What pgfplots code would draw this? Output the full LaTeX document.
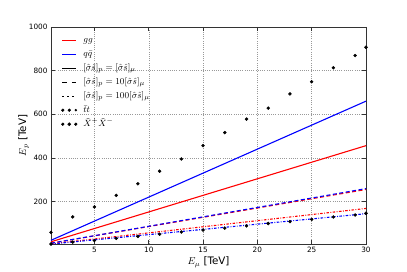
\documentclass[border=0pt]{standalone}
\usepackage{fontspec}
\setmainfont{DejaVu Sans}
\usepackage{pgfplots}
\pgfplotsset{compat=1.18}
\begin{document}
\begin{tikzpicture}
\begin{axis}[
  scale only axis,
  width=315pt, height=217pt,
  xmin=1, xmax=30, ymin=5, ymax=1000,
  xtick={5,10,15,20,25,30},
  ytick={200,400,600,800,1000},
  tick align=inside,
  xtick pos=both, ytick pos=both,
  major tick length=4pt,
  minor tick num=0,
  grid=major,
  grid style={gray!80, dash pattern=on 1pt off 1.2pt, line width=0.5pt},
  axis line style={line width=0.8pt, black!80},
  tick style={line width=0.6pt, black!80},
  /pgf/number format/assume math mode=true,
  /pgf/number format/1000 sep={},
  ticklabel style={font=\fontsize{7.3}{9}\selectfont},
  xlabel={$E_\mu$ [TeV]}, ylabel={$E_p$ [TeV]},
  label style={font=\fontsize{10.3}{12}\selectfont},
  xlabel style={yshift=3pt},
  ylabel style={yshift=-7pt},
  legend cell align=left,
  legend style={draw=none, fill=none, at={(0,1)}, anchor=north west, xshift=7pt, yshift=-4pt,
    font=\fontsize{9.5}{10}\selectfont, row sep=0pt,
    nodes={inner sep=1pt, text height=8.5pt, text depth=3.5pt}},
]
\addlegendimage{legend image code/.code={\path[draw=none,fill=none] (0pt,0pt) -- (20pt,0pt); \draw[red, line width=1.1pt] (0pt,0pt) -- (14pt,0pt);}}
\addlegendentry{$gg$}
\addlegendimage{legend image code/.code={\path[draw=none,fill=none] (0pt,0pt) -- (20pt,0pt); \draw[blue, line width=1.1pt] (0pt,0pt) -- (14pt,0pt);}}
\addlegendentry{$q\bar{q}$}
\addlegendimage{legend image code/.code={\path[draw=none,fill=none] (0pt,0pt) -- (20pt,0pt); \draw[black, line width=1.1pt] (0pt,0pt) -- (14pt,0pt);}}
\addlegendentry{$[\hat{\sigma}\hat{s}]_p=[\hat{\sigma}\hat{s}]_\mu$}
\addlegendimage{legend image code/.code={\path[draw=none,fill=none] (0pt,0pt) -- (20pt,0pt); \draw[black, line width=1.1pt, dash pattern=on 4.5pt off 5pt] (0pt,0pt) -- (14pt,0pt);}}
\addlegendentry{$[\hat{\sigma}\hat{s}]_p=10[\hat{\sigma}\hat{s}]_\mu$}
\addlegendimage{legend image code/.code={\path[draw=none,fill=none] (0pt,0pt) -- (20pt,0pt); \draw[black, line width=1.1pt, dash pattern=on 1.5pt off 3.5pt] (0pt,0pt) -- (14pt,0pt);}}
\addlegendentry{$[\hat{\sigma}\hat{s}]_p=100[\hat{\sigma}\hat{s}]_\mu$}
\addlegendimage{legend image code/.code={\path[draw=none,fill=none] (0pt,0pt) -- (20pt,0pt); \fill[black] (0.5pt,0pt) circle (1.4pt); \fill[black] (7pt,0pt) circle (1.4pt); \fill[black] (13.5pt,0pt) circle (1pt);}}
\addlegendentry{$\bar{t}t$}
\addlegendimage{legend image code/.code={\path[draw=none,fill=none] (0pt,0pt) -- (20pt,0pt); \fill[black] (0.5pt,0pt) circle (1.4pt); \fill[black] (7pt,0pt) circle (1.6pt); \fill[black] (13.5pt,0pt) circle (1.4pt);}}
\addlegendentry{$\tilde{X}^+\tilde{X}^-$}

\addplot[red, line width=1.1pt, forget plot] coordinates {(1,15.2) (30,456)};
\addplot[blue, line width=1.1pt, forget plot] coordinates {(1,22) (30,660)};
\addplot[red, line width=1.1pt, dash pattern=on 4pt off 2.5pt, forget plot] coordinates {(1,8.5) (30,255)};
\addplot[blue, line width=1.1pt, dash pattern=on 4pt off 2.5pt, forget plot] coordinates {(1,8.6) (30,259)};
\addplot[red, line width=1.1pt, dash pattern=on 2.5pt off 1.5pt on 0.8pt off 1.5pt, forget plot] coordinates {(1,5.6) (30,168)};
\addplot[blue, line width=1.1pt, dash pattern=on 2.5pt off 1.5pt on 0.8pt off 1.5pt, forget plot] coordinates {(1,4.8) (30,144)};

\addplot[only marks, mark=*, mark size=1.5pt, black, forget plot] coordinates {
(1,58) (3,129) (5,175) (7,228) (9,281) (11,339) (13,395) (15,456) (17,516) (19,578)
(21,628) (23,693) (25,749) (27,813) (29,869) (30,907)};
\addplot[only marks, mark=*, mark size=1.5pt, black, forget plot] coordinates {
(1,5) (3,14) (5,21) (7,31) (9,40) (11,50) (13,60) (15,69) (17,78) (19,88)
(21,99) (23,108) (25,118) (27,129) (29,138) (30,146)};
\end{axis}
\pgfresetboundingbox
\path ([shift={(-51pt,-27.3pt)}]current axis.south west) rectangle ([shift={(41pt,27pt)}]current axis.north east);
\end{tikzpicture}
\end{document}
